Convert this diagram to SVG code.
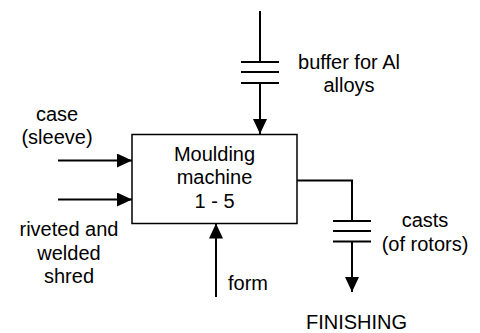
<svg xmlns="http://www.w3.org/2000/svg" width="480" height="333" viewBox="0 0 480 333">
<style>
text{font-family:"Liberation Sans",Arial,sans-serif;font-size:20px;fill:#000}
.c{fill:none;stroke:#000;stroke-width:2}
.p{fill:none;stroke:#000;stroke-width:2}
.box{fill:#fff;stroke:#000;stroke-width:1.5}
</style>
<defs>
<marker id="ah" markerWidth="15" markerHeight="14" refX="15" refY="7" orient="auto" markerUnits="userSpaceOnUse">
<path d="M0,0 L15,7 L0,14 z" fill="#000"/>
</marker>
</defs>
<g id="connectors">
<line class="c" x1="260" y1="11" x2="260" y2="62"/>
<line class="p" x1="241" y1="62" x2="279" y2="62"/>
<line class="p" x1="241" y1="72" x2="279" y2="72"/>
<line class="p" x1="241" y1="83" x2="279" y2="83"/>
<line class="c" x1="260" y1="83" x2="260" y2="134" marker-end="url(#ah)"/>
<line class="c" x1="58" y1="160.5" x2="132" y2="160.5" marker-end="url(#ah)"/>
<line class="c" x1="58" y1="199.5" x2="132" y2="199.5" marker-end="url(#ah)"/>
<line class="c" x1="216" y1="297" x2="216" y2="223.5" marker-end="url(#ah)"/>
<polyline class="c" points="297,180.5 352,180.5 352,221"/>
<line class="p" x1="333" y1="221" x2="371" y2="221"/>
<line class="p" x1="333" y1="231" x2="371" y2="231"/>
<line class="p" x1="333" y1="241.5" x2="371" y2="241.5"/>
<line class="c" x1="352" y1="241.5" x2="352" y2="292" marker-end="url(#ah)"/>
</g>
<g id="machine">
<rect class="box" x="132" y="134.5" width="165" height="89"/>
<text x="214.5" y="160.5" text-anchor="middle">Moulding</text>
<text x="214.5" y="184" text-anchor="middle">machine</text>
<text x="214.5" y="208" text-anchor="middle">1 - 5</text>
</g>
<g id="buffer">
<text x="349" y="69" text-anchor="middle">buffer for Al</text>
<text x="349" y="92" text-anchor="middle">alloys</text>
</g>
<g id="case">
<text x="57" y="121" text-anchor="middle">case</text>
<text x="57" y="144" text-anchor="middle">(sleeve)</text>
</g>
<g id="shred">
<text x="69" y="236" text-anchor="middle">riveted and</text>
<text x="69" y="260" text-anchor="middle">welded</text>
<text x="69" y="283" text-anchor="middle">shred</text>
</g>
<g id="form">
<text x="228" y="290">form</text>
</g>
<g id="casts">
<text x="425" y="227" text-anchor="middle">casts</text>
<text x="425" y="251" text-anchor="middle">(of rotors)</text>
</g>
<g id="finishing">
<text x="356.5" y="328.5" text-anchor="middle">FINISHING</text>
</g>
</svg>
